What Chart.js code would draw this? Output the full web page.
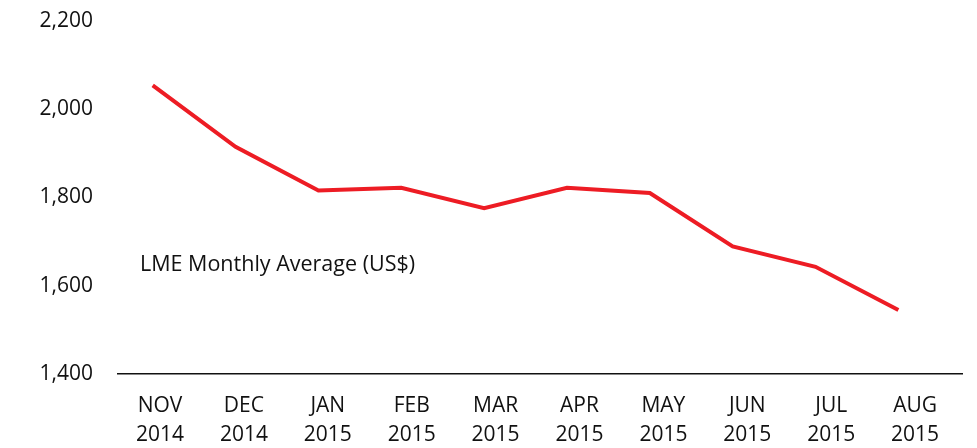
<!DOCTYPE html>
<html>
<head>
<meta charset="utf-8">
<script src="https://cdn.jsdelivr.net/npm/chart.js@4"></script>
<style>
  html, body { margin: 0; padding: 0; background: #ffffff; }
  #wrap { width: 977px; height: 448px; position: relative; }
</style>
</head>
<body>
<div id="wrap"><canvas id="c" width="977" height="448"></canvas></div>
<script>
const months = ["NOV", "DEC", "JAN", "FEB", "MAR", "APR", "MAY", "JUN", "JUL", "AUG"];
const years = ["2014", "2014", "2015", "2015", "2015", "2015", "2015", "2015", "2015", "2015"];
const lmeAverage = [2054, 1915, 1816, 1822, 1776, 1822, 1810, 1689, 1643, 1545];
const yTicks = [1400, 1600, 1800, 2000, 2200];
const seriesLabel = "LME Monthly Average (US$)";

const FONT = "'Open Sans', 'Liberation Sans', sans-serif";

const points = lmeAverage.map((v, i) => ({ x: i, y: v }));

const annotation = {
  id: 'annotation',
  afterDatasetsDraw(chart) {
    const ctx = chart.ctx;
    ctx.save();
    ctx.fillStyle = '#111111';
    ctx.font = "21.5px " + FONT;
    ctx.textAlign = 'left';
    ctx.textBaseline = 'alphabetic';
    ctx.fillText(seriesLabel, 140, 271);
    ctx.restore();
  }
};

new Chart(document.getElementById('c'), {
  type: 'line',
  data: {
    datasets: [{
      label: seriesLabel,
      data: points,
      xAxisID: 'xd',
      borderColor: '#ED1C24',
      backgroundColor: '#ED1C24',
      borderWidth: 4,
      pointRadius: 0,
      tension: 0,
      fill: false
    }]
  },
  options: {
    responsive: false,
    animation: false,
    layout: { padding: { top: 21, right: 15, left: 0, bottom: 0 } },
    plugins: { legend: { display: false }, tooltip: { enabled: false } },
    scales: {
      x: {
        type: 'linear',
        position: 'bottom',
        min: -0.5006,
        max: 9.559,
        afterBuildTicks(axis) {
          axis.ticks = months.map((m, i) => ({ value: i }));
        },
        ticks: {
          autoSkip: false,
          maxRotation: 0,
          padding: 17,
          color: '#111111',
          font: { family: FONT, size: 21, lineHeight: 1.4 },
          callback: (v) => [months[v], years[v]]
        },
        grid: { display: false, drawTicks: false },
        border: { display: true, color: '#111111', width: 1.5 },
        afterFit(axis) { axis.height = 74; axis.paddingLeft = 0; axis.paddingRight = 0; }
      },
      xd: {
        type: 'linear',
        display: false,
        min: -0.419,
        max: 9.768
      },
      y: {
        min: yTicks[0],
        max: yTicks[yTicks.length - 1],
        afterBuildTicks(axis) {
          axis.ticks = yTicks.map(v => ({ value: v }));
        },
        ticks: {
          padding: 25,
          color: '#111111',
          font: { family: FONT, size: 21 },
          callback: (v) => v.toLocaleString('en-US')
        },
        grid: { display: false, drawTicks: false },
        border: { display: false },
        afterFit(axis) { axis.width = 118; axis.paddingTop = 0; axis.paddingBottom = 0; }
      }
    }
  },
  plugins: [annotation]
});
</script>
</body>
</html>
